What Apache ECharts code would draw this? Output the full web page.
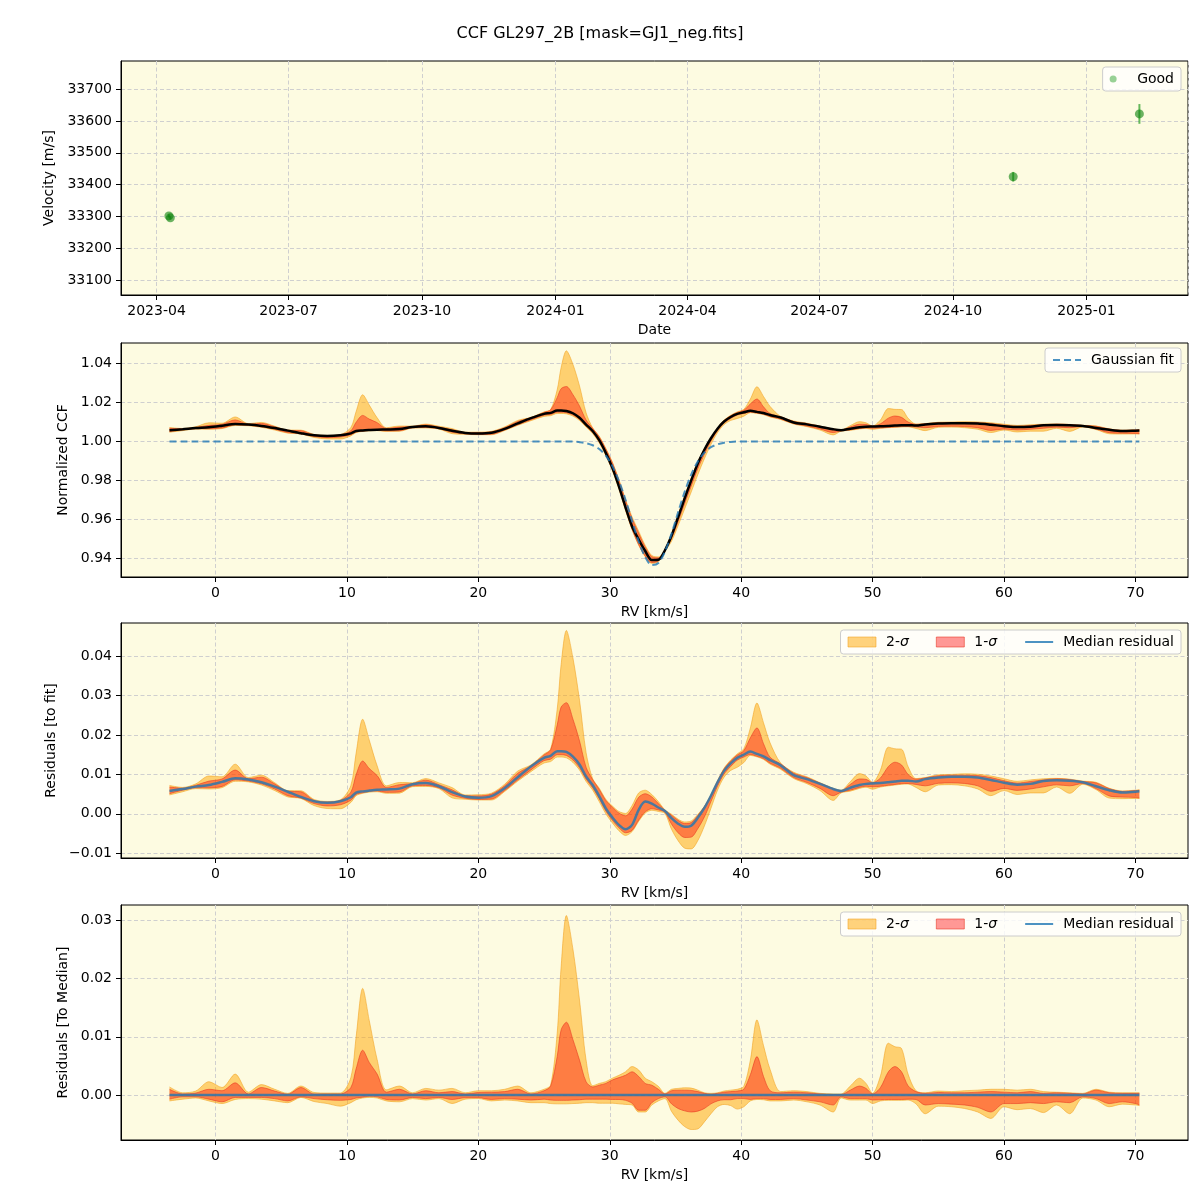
<!DOCTYPE html>
<html>
<head>
<meta charset="utf-8">
<script src="https://cdn.jsdelivr.net/npm/echarts@6/dist/echarts.min.js"></script>
<style>
  html, body { margin: 0; padding: 0; background: #fff; }
  #chart { width: 1200px; height: 1200px; }
</style>
</head>
<body>
<div id="chart"></div>
<script>
const FONT = 'DejaVu Sans';

// panel 1: velocity per epoch
const obsDates = ['2023-04-09', '2023-04-10', '2024-11-11', '2025-02-06'];
const obsVel = [33302, 33296, 33425, 33622];
const obsErr = [5, 5, 15, 31];

// tick values
const velTicks = [33100, 33200, 33300, 33400, 33500, 33600, 33700];
const rvTicks = [0, 10, 20, 30, 40, 50, 60, 70];
const ccfTicks = [0.94, 0.96, 0.98, 1.00, 1.02, 1.04];
const resTicks = [-0.01, 0, 0.01, 0.02, 0.03, 0.04];
const medTicks = [0, 0.01, 0.02, 0.03];

// RV grid [km/s]
const rv = [
  -3.5, -2.5, -1.5, -0.5, 0.5, 1.5, 2.5, 3.5, 4.5, 5.5,
  6.5, 7.5, 8.5, 9.5, 10.3, 10.7, 11.2, 11.7, 12.3, 13,
  14, 15, 16, 17, 18, 19, 20, 21, 22, 23,
  24, 25, 25.5, 26, 26.3, 26.7, 27.2, 27.7, 28.2, 28.7,
  29.2, 29.7, 30.2, 30.7, 31.2, 31.7, 32.2, 32.7, 33.2, 33.7,
  34.2, 34.7, 35.2, 35.7, 36.2, 36.7, 37.2, 37.7, 38.2, 38.7,
  39.2, 39.7, 40.2, 40.7, 41.2, 41.7, 42.2, 43, 44, 45,
  46, 47, 47.6, 48.3, 49, 49.5, 50, 50.6, 51.2, 51.7,
  52.2, 52.7, 53.3, 54, 55, 56, 57, 58, 59, 60,
  61, 62, 63, 64, 65, 66, 67, 68, 69, 70,
  70.3
];

// gaussian fit of the CCF
const fitCcf = [
  1, 1, 1, 1, 1, 1, 1, 1, 1, 1,
  1, 1, 1, 1, 1, 1, 1, 1, 1, 1,
  1, 1, 1, 1, 1, 1, 1, 1, 1, 1,
  1, 1, 1, 1, 1, 1, 1, 0.9997, 0.9992, 0.9981,
  0.9962, 0.9928, 0.9874, 0.9798, 0.9702, 0.9593, 0.9488, 0.9408, 0.9367, 0.9378,
  0.9436, 0.9528, 0.9637, 0.9742, 0.9831, 0.9898, 0.9943, 0.9971, 0.9986, 0.9994,
  0.9998, 1, 1, 1, 1, 1, 1, 1, 1, 1,
  1, 1, 1, 1, 1, 1, 1, 1, 1, 1,
  1, 1, 1, 1, 1, 1, 1, 1, 1, 1,
  1, 1, 1, 1, 1, 1, 1, 1, 1, 1,
  1
];

// median residual to fit (x1e-3)
const medRes = [
  5.8, 6.3, 6.9, 7.3, 8.1, 9.0, 8.7, 8.0, 6.9, 5.6,
  4.3, 3.2, 2.8, 3.2, 4.2, 5.4, 5.7, 5.9, 6.1, 6.2,
  6.4, 7.5, 7.8, 7.0, 5.5, 4.4, 4.1, 4.5, 6.5, 9.3,
  12.0, 14.2, 14.7, 15.9, 15.9, 15.7, 14.5, 12.5, 9.5, 7.3,
  4.5, 1.4, -0.9, -2.8, -3.9, -2.8, 1.0, 3.1, 2.6, 1.6,
  0.7, -1.1, -2.5, -3.3, -3.0, -1.0, 1.5, 4.6, 8.0, 10.9,
  12.8, 14.2, 15.0, 15.8, 15.2, 14.6, 13.6, 12.3, 9.8, 8.8,
  7.6, 6.3, 5.8, 6.6, 7.3, 7.6, 7.7, 7.8, 8.0, 8.2,
  8.4, 8.4, 8.2, 8.8, 9.2, 9.4, 9.4, 9.2, 8.6, 7.9,
  7.4, 7.6, 8.3, 8.5, 8.4, 8.0, 7.0, 6.0, 5.4, 5.6,
  5.7
];

// spread around the median (x1e-3): 2-sigma high, 1-sigma high, 1-sigma low, 2-sigma low
const dev2hi = [
  1.4, 0.4, 0.7, 2.3, 1.3, 3.6, 0.5, 1.8, 1.0, 0.3,
  1.55, 0.45, 0.35, 0.35, 3.0, 10.0, 18.3, 12.8, 6.1, 0.9,
  1.55, 0.4, 1.15, 0.85, 1.15, 0.4, 0.75, 0.75, 1.0, 1.55,
  0.4, 1.0, 1.7, 10.6, 22, 30.8, 25, 16.3, 6.0, 1.6,
  2.0, 2.3, 2.9, 3.4, 4.0, 4.9, 4.3, 2.9, 2.3, 1.5,
  0.3, 1.0, 1.15, 1.25, 1.2, 0.85, 0.4, 0.3, 0.4, 0.7,
  0.85, 1.0, 1.5, 6.0, 12.9, 8.5, 4.4, 0.6, 0.75, 0.6,
  0.3, 0.2, 0.2, 1.55, 2.9, 2.0, 0.3, 3.3, 8.9, 8.3,
  8.0, 3.6, 0.75, 0.4, 0.7, 0.6, 0.75, 0.85, 1.0, 1.0,
  0.85, 1.0, 0.6, 0.5, 0.4, 0.3, 1.0, 0.5, 0.4, 0.4,
  0.4
];
const dev1hi = [
  1.0, 0.2, 0.35, 1.0, 0.75, 2.1, 0.2, 1.3, 0.7, 0.15,
  1.3, 0.2, 0.2, 0.2, 1.3, 4.5, 7.7, 5.6, 3.6, 0.5,
  1.0, 0.2, 0.75, 0.4, 0.6, 0.2, 0.45, 0.5, 0.6, 1.0,
  0.2, 0.75, 1.55, 6.6, 11.2, 12.5, 9.5, 6.0, 2.3, 1.4,
  1.7, 2.0, 2.6, 3.0, 3.4, 4.0, 3.2, 2.0, 1.7, 1.0,
  0.2, 0.75, 0.85, 0.85, 0.8, 0.6, 0.3, 0.15, 0.3, 0.5,
  0.6, 0.7, 1.0, 3.5, 6.6, 3.2, 0.75, 0.4, 0.5, 0.4,
  0.2, 0.1, 0.1, 0.85, 1.55, 1.15, 0.2, 1.3, 4.0, 4.9,
  4.0, 1.6, 0.6, 0.3, 0.45, 0.4, 0.4, 0.5, 0.6, 0.5,
  0.4, 0.6, 0.3, 0.4, 0.3, 0.2, 0.85, 0.4, 0.3, 0.3,
  0.3
];
const dev1lo = [
  -0.7, -0.3, -0.3, -0.7, -1.15, -0.4, -0.4, -0.4, -0.6, -1.0,
  -0.3, -0.6, -0.8, -0.9, -0.75, -0.5, -0.35, -0.2, -0.3, -0.75,
  -0.85, -0.4, -0.6, -0.4, -0.75, -0.45, -0.45, -0.75, -0.6, -0.7,
  -0.85, -0.7, -0.85, -0.9, -0.9, -0.9, -0.85, -0.8, -0.7, -0.7,
  -0.7, -0.7, -0.75, -0.75, -0.9, -1.4, -2.6, -2.6, -1.3, -0.6,
  -0.3, -1.5, -2.3, -2.7, -2.9, -2.75, -2.3, -1.5, -1.0, -0.8,
  -0.8, -0.6, -0.6, -0.75, -0.6, -0.6, -0.75, -0.75, -0.6, -0.85,
  -1.15, -1.7, -0.3, -0.6, -0.6, -0.6, -0.85, -0.8, -0.75, -0.75,
  -0.75, -0.7, -0.75, -1.7, -1.45, -1.55, -1.7, -2.1, -2.9, -1.45,
  -1.45, -1.3, -1.45, -1.15, -1.3, -0.3, -0.6, -1.45, -1.15, -1.45,
  -1.7
];
const dev2lo = [
  -1.0, -0.7, -0.5, -1.0, -1.45, -0.75, -0.6, -0.7, -1.0, -1.3,
  -0.4, -1.1, -1.45, -1.9, -1.3, -0.8, -0.5, -0.4, -0.5, -1.0,
  -1.15, -0.6, -0.85, -0.6, -1.45, -0.7, -0.6, -1.0, -0.85, -1.0,
  -1.3, -1.3, -1.45, -1.5, -1.5, -1.5, -1.45, -1.4, -1.3, -1.3,
  -1.4, -1.4, -1.4, -1.5, -1.6, -1.7, -2.9, -2.9, -1.7, -1.0,
  -0.6, -2.8, -4.3, -5.4, -5.9, -5.8, -4.6, -3.2, -2.0, -1.6,
  -1.8, -2.4, -2.0, -1.0, -0.75, -0.8, -1.0, -1.0, -0.85, -1.15,
  -1.7, -2.9, -0.5, -0.85, -0.85, -0.85, -1.45, -1.0, -0.9, -0.9,
  -0.9, -0.85, -1.5, -3.2, -1.9, -2.0, -2.3, -2.9, -4.0, -2.0,
  -2.5, -2.3, -3.0, -1.7, -3.2, -0.5, -0.85, -2.0, -1.55, -1.7,
  -1.8
];

const MILLI = 1e-3;

const FILL2 = 'rgba(255,165,0,0.5)';
const EDGE2 = 'rgba(240,160,30,0.55)';
const FILL1 = 'rgba(255,0,0,0.4)';
const EDGE1 = 'rgba(230,50,30,0.55)';
const BLUE = 'rgba(31,119,180,0.8)';
const GRID_BG = '#fdfbe1';

// offsets per panel: ccf = fit + res, residual = res, to median = res - med
const ccfBase = rv.map((x, i) => fitCcf[i] + medRes[i] * MILLI);
const resBase = rv.map((x, i) => medRes[i] * MILLI);
const zeroBase = rv.map(() => 0);

// rows are [y, x] so that the stack runs on y
function band(gi, name, base, lo, hi, fill, edge, key) {
  const loVals = rv.map((x, i) => base[i] + lo[i] * MILLI);
  const hiVals = rv.map((x, i) => base[i] + hi[i] * MILLI);
  return [
    {
      type: 'line', name: name + ' low', xAxisIndex: gi, yAxisIndex: gi,
      stack: key, stackStrategy: 'all', symbol: 'none', smooth: 0.3, silent: true,
      encode: { x: 1, y: 0 },
      data: rv.map((x, i) => [loVals[i], x]),
      lineStyle: { color: edge, width: 1 }
    },
    {
      type: 'line', name: name, xAxisIndex: gi, yAxisIndex: gi,
      stack: key, stackStrategy: 'all', symbol: 'none', smooth: 0.3, silent: true,
      encode: { x: 1, y: 0 },
      color: fill,
      data: rv.map((x, i) => [hiVals[i] - loVals[i], x]),
      lineStyle: { color: edge, width: 1 },
      areaStyle: { color: fill, opacity: 1 }
    }
  ];
}

function tickFmt(step, dec) {
  return function (v) {
    const k = v / step;
    if (Math.abs(k - Math.round(k)) > 1e-6) return '';
    return (Math.round(k) * step).toFixed(dec).replace('-', '\u2212');
  };
}

const axisBase = {
  axisLine: { show: true, onZero: false, lineStyle: { color: '#000', width: 1 } },
  splitLine: { show: true, lineStyle: { color: '#cfcfcf', type: [4, 2.5], width: 1 } },
  nameLocation: 'middle',
  nameTextStyle: { color: '#000', fontSize: 14, fontFamily: FONT }
};
function tick(values) {
  const t = { show: true, inside: false, length: 5, lineStyle: { color: '#000', width: 1 } };
  if (values) t.customValues = values;
  return t;
}
function lab(extra) {
  return Object.assign({ color: '#000', fontSize: 14, fontFamily: FONT }, extra);
}

const gridTops = [61, 343, 623, 905];
const gridH = [234, 234, 235, 235];

const xAxes = [
  Object.assign({}, axisBase, {
    type: 'time', gridIndex: 0,
    min: new Date('2023-03-07T12:00:00').getTime(),
    max: new Date('2025-03-12T00:00:00').getTime(),
    splitNumber: 8,
    name: 'Date', nameGap: 28,
    axisTick: tick(null),
    axisLabel: lab({ margin: 9, formatter: '{yyyy}-{MM}' })
  })
];
for (let g = 1; g < 4; g++) {
  xAxes.push(Object.assign({}, axisBase, {
    type: 'value', gridIndex: g, min: -7.19, max: 74.0, splitNumber: 8,
    name: 'RV [km/s]', nameGap: 28,
    axisTick: tick(rvTicks),
    axisLabel: lab({ margin: 9, formatter: tickFmt(10, 0) })
  }));
}

const yAxes = [
  Object.assign({}, axisBase, {
    type: 'value', gridIndex: 0, min: 33054, max: 33788,
    name: 'Velocity [m/s]', nameGap: 58,
    axisTick: tick(velTicks),
    axisLabel: lab({ margin: 9, formatter: tickFmt(100, 0) })
  }),
  Object.assign({}, axisBase, {
    type: 'value', gridIndex: 1, min: 0.9306, max: 1.0505,
    name: 'Normalized CCF', nameGap: 44,
    axisTick: tick(ccfTicks),
    axisLabel: lab({ margin: 9, formatter: tickFmt(0.02, 2) })
  }),
  Object.assign({}, axisBase, {
    type: 'value', gridIndex: 2, min: -0.0112, max: 0.0484,
    name: 'Residuals [to fit]', nameGap: 56,
    axisTick: tick(resTicks),
    axisLabel: lab({ margin: 9, formatter: tickFmt(0.01, 2) })
  }),
  Object.assign({}, axisBase, {
    type: 'value', gridIndex: 3, min: -0.0077, max: 0.0326,
    name: 'Residuals [To Median]', nameGap: 44,
    axisTick: tick(medTicks),
    axisLabel: lab({ margin: 9, formatter: tickFmt(0.01, 2) })
  })
];

const legendBase = {
  orient: 'horizontal', right: 19,
  backgroundColor: 'rgba(255,255,255,0.8)', borderColor: '#cccccc', borderWidth: 1, borderRadius: 3,
  padding: [5, 7, 5, 7], itemWidth: 28, itemHeight: 10, itemGap: 27,
  textStyle: {
    color: '#000', fontSize: 14, fontFamily: FONT,
    rich: {
      g: { width: 5 },
      i: { fontStyle: 'italic', fontSize: 14, fontFamily: FONT, color: '#000' }
    }
  },
  formatter: function (n) { return '{g|}' + n.replace('σ', '{i|σ}'); }
};
const hideMark = { color: 'rgba(0,0,0,0)', borderWidth: 0 };
const sigmaLegendData = [
  { name: '2-σ', icon: 'rect', itemStyle: { color: FILL2, borderColor: EDGE2, borderWidth: 1 } },
  { name: '1-σ', icon: 'rect', itemStyle: { color: FILL1, borderColor: EDGE1, borderWidth: 1 } },
  { name: 'Median residual', itemStyle: hideMark }
];

const series = [];

// panel 1
series.push({
  type: 'custom', name: 'Good err', xAxisIndex: 0, yAxisIndex: 0, silent: true,
  data: obsDates.map((d, i) => [new Date(d + 'T12:00:00').getTime(), obsVel[i] - obsErr[i], obsVel[i] + obsErr[i]]),
  encode: { x: 0, y: [1, 2] },
  renderItem: function (params, api) {
    const p1 = api.coord([api.value(0), api.value(1)]);
    const p2 = api.coord([api.value(0), api.value(2)]);
    return {
      type: 'line',
      shape: { x1: p1[0], y1: p1[1], x2: p2[0], y2: p2[1] },
      style: { stroke: 'rgba(0,140,0,0.6)', lineWidth: 2 }
    };
  }
});
series.push({
  type: 'scatter', name: 'Good', xAxisIndex: 0, yAxisIndex: 0,
  symbol: 'circle', symbolSize: 9,
  data: obsDates.map((d, i) => [new Date(d + 'T12:00:00').getTime(), obsVel[i]]),
  itemStyle: { color: 'rgba(10,130,10,0.75)' }
});

// panel 2
series.push(...band(1, 'ccf 2-σ', ccfBase, dev2lo, dev2hi, FILL2, EDGE2, 'p2s2'));
series.push(...band(1, 'ccf 1-σ', ccfBase, dev1lo, dev1hi, FILL1, EDGE1, 'p2s1'));
series.push({
  type: 'line', name: 'Gaussian fit', xAxisIndex: 1, yAxisIndex: 1, symbol: 'none', smooth: 0.3,
  data: rv.map((x, i) => [x, fitCcf[i]]), z: 4,
  color: BLUE,
  lineStyle: { color: BLUE, width: 2, type: [7, 4] }
});
series.push({
  type: 'line', name: 'Median CCF', xAxisIndex: 1, yAxisIndex: 1, symbol: 'none', smooth: 0.3,
  data: rv.map((x, i) => [x, ccfBase[i]]), z: 3,
  lineStyle: { color: '#000', width: 2.5 }
});

// panel 3
series.push(...band(2, '2-σ', resBase, dev2lo, dev2hi, FILL2, EDGE2, 'p3s2'));
series.push(...band(2, '1-σ', resBase, dev1lo, dev1hi, FILL1, EDGE1, 'p3s1'));
series.push({
  type: 'line', name: 'Median residual', xAxisIndex: 2, yAxisIndex: 2, symbol: 'none', smooth: 0.3,
  data: rv.map((x, i) => [x, resBase[i]]), color: BLUE,
  lineStyle: { color: BLUE, width: 2.5 }
});

// panel 4
series.push(...band(3, '2-σ', zeroBase, dev2lo, dev2hi, FILL2, EDGE2, 'p4s2'));
series.push(...band(3, '1-σ', zeroBase, dev1lo, dev1hi, FILL1, EDGE1, 'p4s1'));
series.push({
  type: 'line', name: 'Median residual', xAxisIndex: 3, yAxisIndex: 3, symbol: 'none',
  data: rv.map((x, i) => [x, zeroBase[i]]), color: BLUE,
  lineStyle: { color: BLUE, width: 2.5 }
});

const chart = echarts.init(document.getElementById('chart'), null, { renderer: 'canvas' });
chart.setOption({
  animation: false,
  backgroundColor: '#ffffff',
  title: {
    text: 'CCF GL297_2B [mask=GJ1_neg.fits]', left: 'center', top: 21,
    textStyle: { color: '#000', fontSize: 16, fontWeight: 'normal', fontFamily: FONT }
  },
  grid: gridTops.map((t, i) => ({
    left: 121, right: 12, top: t, height: gridH[i],
    show: true, backgroundColor: GRID_BG, borderColor: '#000', borderWidth: 1
  })),
  xAxis: xAxes,
  yAxis: yAxes,
  legend: [
    Object.assign({}, legendBase, {
      top: 67, itemHeight: 7,
      data: [{ name: 'Good', icon: 'circle', itemStyle: { color: 'rgba(40,160,40,0.6)' } }]
    }),
    Object.assign({}, legendBase, {
      top: 348,
      data: [{ name: 'Gaussian fit', itemStyle: hideMark }]
    }),
    Object.assign({}, legendBase, { top: 630, data: sigmaLegendData }),
    Object.assign({}, legendBase, { top: 912, data: sigmaLegendData })
  ],
  series: series
});
</script>
</body>
</html>
